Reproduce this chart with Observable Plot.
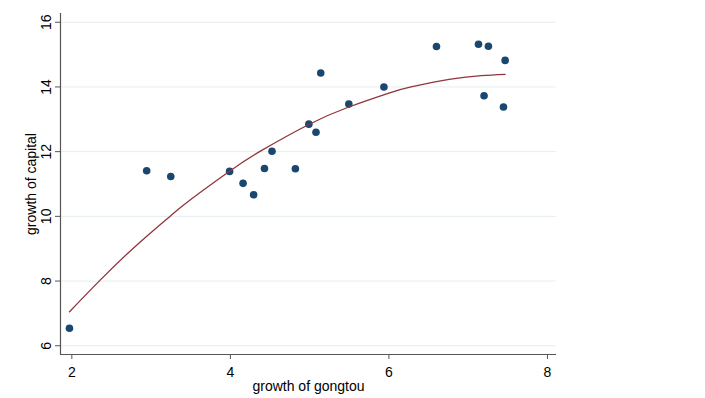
<!DOCTYPE html>
<html>
<head>
<meta charset="utf-8">
<script src="https://cdn.jsdelivr.net/npm/d3@7"></script>
<script src="https://cdn.jsdelivr.net/npm/@observablehq/plot@0.6"></script>
<style>
  html, body { margin: 0; padding: 0; background: #fff; }
  svg { display: block; }
</style>
</head>
<body>
<div id="chart"></div>
<script>
const gongtou = [1.97, 2.944, 3.248, 3.99, 4.16, 4.293, 4.43, 4.525, 4.82, 4.99, 5.08, 5.14, 5.494, 5.937, 6.60, 7.13, 7.255, 7.466, 7.20, 7.445];
const capital = [6.54, 11.41, 11.23, 11.39, 11.02, 10.67, 11.48, 12.01, 11.47, 12.85, 12.60, 14.43, 13.47, 14.00, 15.25, 15.32, 15.26, 14.82, 13.73, 13.38];
// fitted curve
const fitX = [1.97, 2.354, 2.8, 3.248, 3.5, 3.994, 4.39, 4.99, 5.494, 6.0, 6.28, 6.78, 7.166, 7.466];
const fitY = [7.05, 8.02, 9.07, 10.02, 10.52, 11.4, 12.03, 12.84, 13.38, 13.81, 14.0, 14.24, 14.35, 14.39];
const xTicks = [2, 4, 6, 8];
const yTicks = [6, 8, 10, 12, 14, 16];
const xLabel = "growth of gongtou";
const yLabel = "growth of capital";

const points = gongtou.map((x, i) => ({x, y: capital[i]}));
const fit = fitX.map((x, i) => ({x, y: fitY[i]}));

const font = "Liberation Sans, Arial, sans-serif";
const xDomain = [1.857, 8.114];
const yDomain = [5.73, 16.27];

const chart = Plot.plot({
  width: 705,
  height: 398,
  marginLeft: 60,
  marginRight: 149,
  marginTop: 13,
  marginBottom: 44,
  style: {fontFamily: font, fontSize: "14px", background: "#fff", color: "#000"},
  x: {domain: xDomain},
  y: {domain: yDomain},
  marks: [
    Plot.gridY(yTicks, {stroke: "#e6eef0", strokeOpacity: 1, strokeWidth: 1}),
    Plot.axisY(yTicks, {tickSize: 5, tickFormat: () => "", stroke: "#555", label: null}),
    Plot.axisX(xTicks, {tickSize: 5, tickFormat: () => "", stroke: "#555", label: null}),
    Plot.text(yTicks, {y: d => d, text: d => String(d), frameAnchor: "left", dx: -13.5, rotate: -90, textAnchor: "middle", lineAnchor: "middle", fontSize: 14, fill: "#000"}),
    Plot.text(xTicks, {x: d => d, text: d => String(d), frameAnchor: "bottom", dy: 18, textAnchor: "middle", lineAnchor: "middle", fontSize: 14, fill: "#000"}),
    Plot.text([yLabel], {text: d => d, frameAnchor: "left", dx: -29, rotate: -90, textAnchor: "middle", lineAnchor: "middle", fontSize: 14, fill: "#000"}),
    Plot.text([xLabel], {text: d => d, frameAnchor: "bottom", dy: 32, textAnchor: "middle", lineAnchor: "middle", fontSize: 14, fill: "#000"}),
    Plot.ruleX([xDomain[0]], {stroke: "#555", strokeWidth: 1.2}),
    Plot.ruleY([yDomain[0]], {stroke: "#555", strokeWidth: 1.2}),
    Plot.dot(points, {x: "x", y: "y", r: 3.8, fill: "#1a476f", stroke: "none"}),
    Plot.line(fit, {x: "x", y: "y", stroke: "#90353b", strokeWidth: 1.3, curve: "natural"})
  ]
});
document.getElementById("chart").appendChild(chart);
</script>
</body>
</html>
